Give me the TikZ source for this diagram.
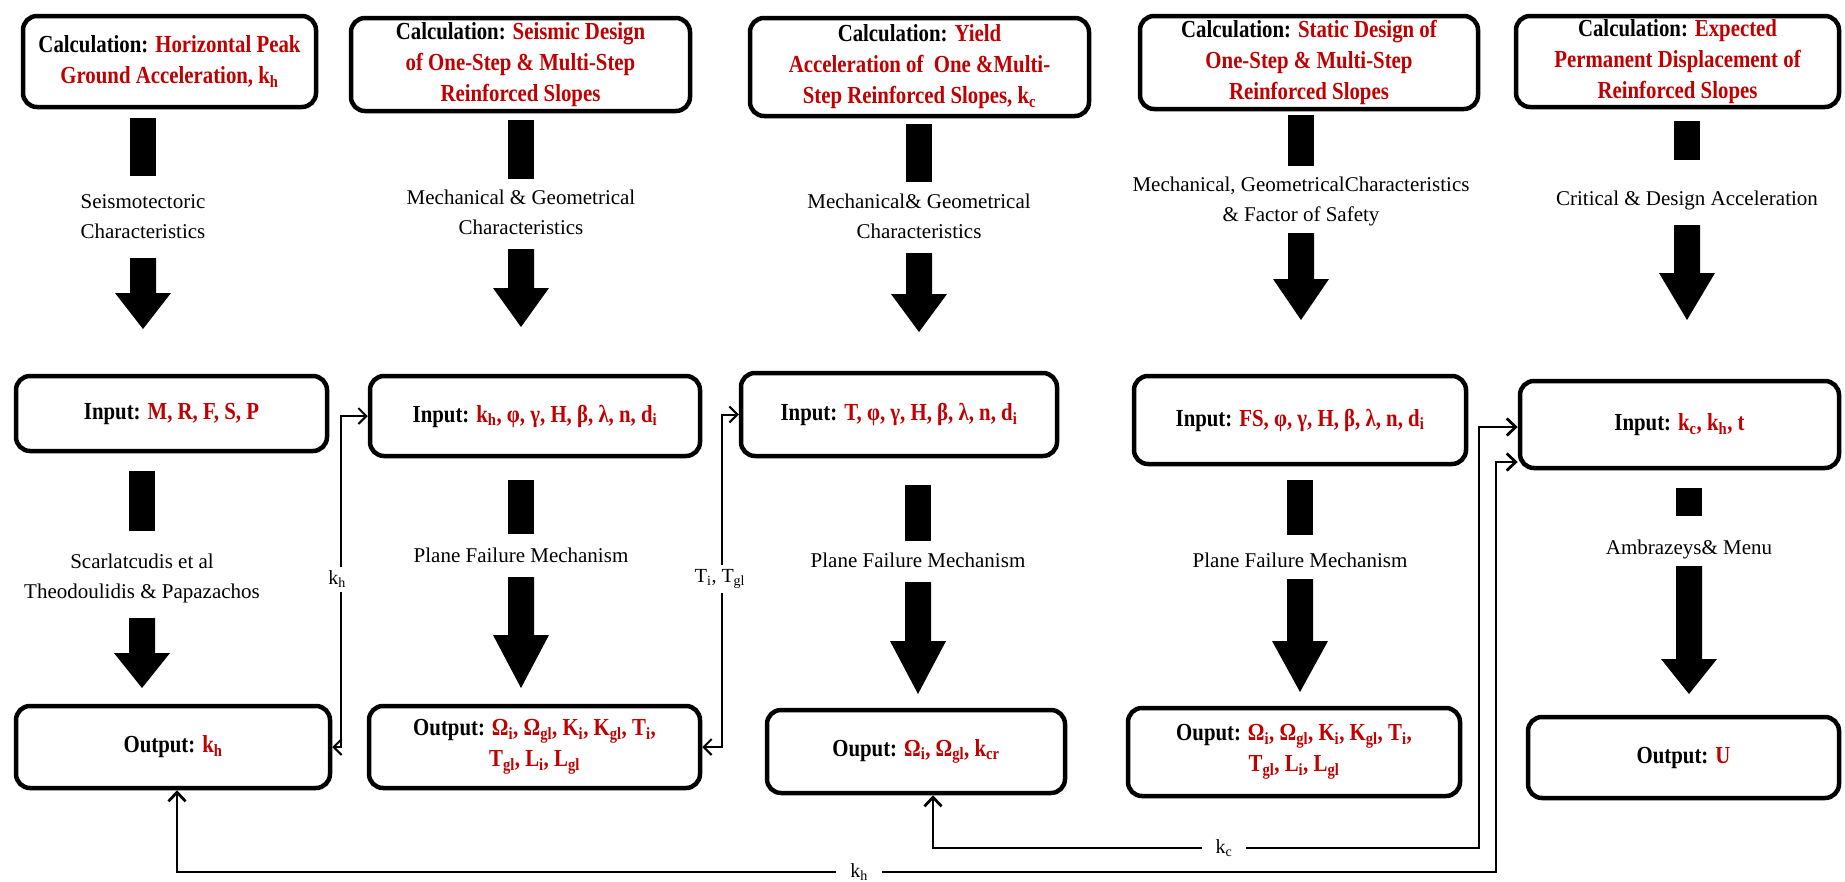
\documentclass[tikz,border=0pt]{standalone}
\usepackage{fontspec}
\setmainfont{Liberation Serif}
\newfontfamily\bxf[FakeStretch=0.85]{Liberation Serif}
\usetikzlibrary{arrows.meta,calc}
\definecolor{dred}{RGB}{192,0,0}
\newcommand{\rd}[1]{\textcolor{dred}{#1}}
\newcommand{\sbs}[1]{\textsubscript{#1}}
\newcommand{\stembar}[3]{\fill (#1-13,#2) rectangle (#1+13,#3);}
\newcommand{\thickarr}[4]{\fill (#1-13,#2) -- (#1+13,#2) -- (#1+13,#3) -- (#1+28,#3) -- (#1,#4) -- (#1-28,#3) -- (#1-13,#3) -- cycle;}
\begin{document}
\begin{tikzpicture}[x=1pt,y=-1pt,
  box/.style={draw=black, line width=4.5pt, rounded corners=14pt, inner sep=0pt, align=center,
     font=\bxf\bfseries\fontsize{24.5}{31}\selectfont},
  lbl/.style={font=\fontsize{21}{30}\selectfont, align=center, inner sep=1pt},
  conn/.style={line width=2pt, {Straight Barb[length=8pt,width=16pt]}-{Straight Barb[length=8pt,width=16pt]}},
  connb/.style={line width=2.8pt, {Straight Barb[length=9pt,width=17pt]}-{Straight Barb[length=9pt,width=17pt]}},
  tag/.style={fill=white, font=\fontsize{20}{24}\selectfont, inner sep=4pt}
]
\fill[white] (0,0) rectangle (1845,881);
\useasboundingbox (0,0) rectangle (1845,881);

% top boxes
\node[box, minimum width=293pt, minimum height=91pt] (T1) at (169.5,61.5)
  {Calculation: \rd{Horizontal Peak}\\\rd{Ground Acceleration, k\sbs{h}}};
\node[box, minimum width=339pt, minimum height=93pt] (T2) at (520.5,64.5)
  {Calculation: \rd{Seismic Design}\\\rd{of One-Step \& Multi-Step}\\\rd{Reinforced Slopes}};
\node[box, minimum width=339pt, minimum height=98pt] (T3) at (919.5,67)
  {Calculation: \rd{Yield}\\\rd{Acceleration of\ \ One \&Multi-}\\\rd{Step Reinforced Slopes, k\sbs{c}}};
\node[box, minimum width=338pt, minimum height=93pt] (T4) at (1309,62.5)
  {Calculation: \rd{Static Design of}\\\rd{One-Step \& Multi-Step}\\\rd{Reinforced Slopes}};
\node[box, minimum width=323pt, minimum height=91pt] (T5) at (1677.5,61.5)
  {Calculation: \rd{Expected}\\\rd{Permanent Displacement of}\\\rd{Reinforced Slopes}};

% input boxes
\node[box, minimum width=311pt, minimum height=75pt] (I1) at (171.5,413.5)
  {Input: \rd{M, R, F, S, P}};
\node[box, minimum width=330pt, minimum height=80pt] (I2) at (535,416)
  {Input: \rd{k\sbs{h}, φ, γ, H, β, λ, n, d\sbs{i}}};
\node[box, minimum width=316pt, minimum height=83pt] (I3) at (899,414.5)
  {Input: \rd{T, φ, γ, H, β, λ, n, d\sbs{i}}};
\node[box, minimum width=332pt, minimum height=88pt] (I4) at (1300,420)
  {Input: \rd{FS, φ, γ, H, β, λ, n, d\sbs{i}}};
\node[box, minimum width=319pt, minimum height=87pt] (I5) at (1679.5,424.5)
  {Input: \rd{k\sbs{c}, k\sbs{h}, t}};

% output boxes
\node[box, minimum width=314pt, minimum height=82pt] (O1) at (173,747)
  {Output: \rd{k\sbs{h}}};
\node[box, minimum width=331pt, minimum height=82pt] (O2) at (534.5,747)
  {Output: \rd{Ω\sbs{i}, Ω\sbs{gl}, K\sbs{i}, K\sbs{gl}, T\sbs{i},}\\\rd{T\sbs{gl}, L\sbs{i}, L\sbs{gl}}};
\node[box, minimum width=298pt, minimum height=83pt] (O3) at (916,751.5)
  {Ouput: \rd{Ω\sbs{i}, Ω\sbs{gl}, k\sbs{cr}}};
\node[box, minimum width=332pt, minimum height=88pt] (O4) at (1294,752)
  {Ouput: \rd{Ω\sbs{i}, Ω\sbs{gl}, K\sbs{i}, K\sbs{gl}, T\sbs{i},}\\\rd{T\sbs{gl}, L\sbs{i}, L\sbs{gl}}};
\node[box, minimum width=311pt, minimum height=81pt] (O5) at (1683.5,757.5)
  {Output: \rd{U}};

% upper thick arrows
\stembar{143}{118}{176}
\thickarr{143}{258}{293}{329}
\stembar{521}{120}{179}
\thickarr{521}{249}{288}{327}
\stembar{919}{124}{182}
\thickarr{919}{253}{294}{332}
\stembar{1301}{115}{166}
\thickarr{1301}{233}{279}{320}
\stembar{1687}{121}{160}
\thickarr{1687}{225}{273}{320}

% lower thick arrows
\stembar{142}{471}{531}
\thickarr{142}{618}{653}{688}
\stembar{521}{480}{534}
\thickarr{521}{577}{635}{688}
\stembar{918}{485}{541}
\thickarr{918}{582}{641}{694}
\stembar{1300}{480}{535}
\thickarr{1300}{579}{641}{692}
\stembar{1689}{488}{516}
\thickarr{1689}{566}{659}{694}

% labels upper
\node[lbl] (a1) at (143,216.5) {Seismotectoric\\Characteristics};
\node[lbl] (a2) at (521,212.5) {Mechanical \& Geometrical\\Characteristics};
\node[lbl] (a3) at (919,216.5) {Mechanical\& Geometrical\\Characteristics};
\node[lbl] (a4) at (1301,201.5) {Mechanical, GeometricalCharacteristics\\\& Factor of Safety};
\node[lbl] (a5) at (1687,200) {Critical \& Design Acceleration};

% labels lower
\node[lbl] (b1) at (142,578.5) {Scarlatcudis et al\\Theodoulidis \& Papazachos};
\node[lbl] (b2) at (521,555) {Plane Failure Mechanism};
\node[lbl] (b3) at (918,560) {Plane Failure Mechanism};
\node[lbl] (b4) at (1300,560) {Plane Failure Mechanism};
\node[lbl] (b5) at (1689,549) {Ambrazeys\& Menu};

% connectors
\coordinate (v1) at (341,0);
\coordinate (v2) at (722,0);
\draw[conn] (O1.east) -- (O1.east -| v1) -- (I2.west -| v1) -- (I2.west);
\node[tag] (c1) at (337,579) {k\sbs{h}};
\draw[conn] (O2.east) -- (O2.east -| v2) -- (I3.west -| v2) -- (I3.west);
\node[tag] (c2) at (720,579) {T\sbs{i}, T\sbs{gl}};

\coordinate (kcx) at (933,0);
\coordinate (kcc) at (1479,848);
\coordinate (kcy) at (0,427);
\coordinate (khx) at (177,0);
\coordinate (khc) at (1496,872);
\coordinate (khy) at (0,462);
\draw[connb] (O3.south -| kcx) |- (kcc) |- (I5.west |- kcy);
\draw[connb] (O1.south -| khx) |- (khc) |- (I5.west |- khy);
\node[tag, inner xsep=14pt] (c3) at (1224,848) {k\sbs{c}};
\node[tag, inner xsep=14pt] (c4) at (859,872) {k\sbs{h}};
\end{tikzpicture}
\end{document}
